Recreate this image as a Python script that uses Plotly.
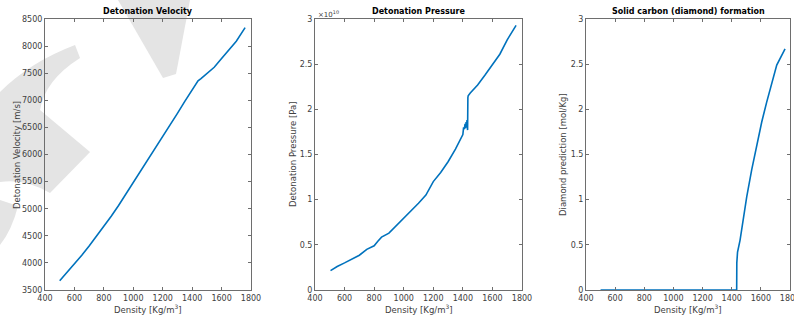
import plotly.graph_objects as go

# ---------------- data ----------------
density_v = [500, 550, 600, 650, 700, 750, 800, 850, 900, 950, 1000, 1050, 1100, 1150,
             1200, 1250, 1300, 1350, 1400, 1420, 1440, 1460, 1500, 1550, 1600, 1650, 1700, 1760]
velocity = [3670, 3820, 3975, 4140, 4310, 4490, 4670, 4860, 5060, 5270, 5480, 5690, 5900, 6110,
            6320, 6540, 6760, 6980, 7190, 7280, 7360, 7400, 7490, 7610, 7770, 7920, 8090, 8340]

density_p = [505, 550, 600, 650, 700, 750, 800, 825, 850, 900, 950, 1000, 1050, 1100, 1150,
             1200, 1250, 1300, 1350, 1400, 1405, 1410, 1415, 1418, 1422, 1425, 1428, 1432,
             1434, 1436, 1450, 1500, 1550, 1600, 1650, 1700, 1760]
pressure_e10 = [0.215, 0.26, 0.30, 0.34, 0.385, 0.45, 0.49, 0.54, 0.585, 0.63, 0.71, 0.79, 0.88,
                0.96, 1.05, 1.20, 1.30, 1.42, 1.56, 1.72, 1.80, 1.78, 1.84, 1.79, 1.86, 1.80,
                1.88, 1.77, 2.13, 2.15, 2.18, 2.27, 2.38, 2.49, 2.61, 2.77, 2.93]
pressure = [p * 1e10 for p in pressure_e10]

density_d = [500, 1434, 1435, 1440, 1457, 1480, 1503, 1537, 1571, 1606, 1640, 1675, 1709, 1766]
diamond = [0, 0, 0.30, 0.42, 0.55, 0.81, 1.03, 1.33, 1.59, 1.86, 2.08, 2.30, 2.49, 2.67]

x_ticks = [400, 600, 800, 1000, 1200, 1400, 1600, 1800]
v_ticks = [3500, 4000, 4500, 5000, 5500, 6000, 6500, 7000, 7500, 8000, 8500]
p_tickvals = [0, 0.5e10, 1e10, 1.5e10, 2e10, 2.5e10, 3e10]
p_ticktext = ["0", "0.5", "1", "1.5", "2", "2.5", "3"]
d_ticks = [0, 0.5, 1, 1.5, 2, 2.5, 3]
d_ticktext = ["0", "0.5", "1", "1.5", "2", "2.5", "3"]

titles = ["Detonation Velocity", "Detonation Pressure", "Solid carbon (diamond) formation"]
y_titles = ["Detonation Velocity [m/s]", "Detonation Pressure [Pa]", "Diamond prediction [mol/Kg]"]
x_title = "Density [Kg/m<sup>3</sup>]"

# ---------------- figure ----------------
W, H = 794, 320
MT, MB = 19, 30
PH = H - MT - MB
LINE = "#0072BD"
AX = "#6e6e6e"
TXT = "#404040"
FONT = "DejaVu Sans"

fig = go.Figure()
fig.add_trace(go.Scatter(x=density_v, y=velocity, mode="lines",
                         line=dict(color=LINE, width=1.6), xaxis="x", yaxis="y"))
fig.add_trace(go.Scatter(x=density_p, y=pressure, mode="lines",
                         line=dict(color=LINE, width=1.6), xaxis="x2", yaxis="y2"))
fig.add_trace(go.Scatter(x=density_d, y=diamond, mode="lines",
                         line=dict(color=LINE, width=1.6), xaxis="x3", yaxis="y3"))

domains = [(45, 251), (315, 522), (586, 790)]
ytitle_x = [17, 293, 563]

common_x = dict(range=[400, 1800], tickvals=x_ticks, ticks="inside", ticklen=3,
                tickcolor=AX, showline=True, linecolor=AX, linewidth=1, mirror="ticks",
                showgrid=False, zeroline=False, automargin=False, ticklabeloverflow="allow",
                tickfont=dict(family=FONT, size=8, color=TXT))
common_y = dict(ticks="inside", ticklen=3, tickcolor=AX, showline=True, linecolor=AX,
                linewidth=1, mirror="ticks", showgrid=False, zeroline=False, automargin=False,
                tickfont=dict(family=FONT, size=8, color=TXT))

layout = dict(width=W, height=H, margin=dict(l=0, r=0, t=MT, b=MB, autoexpand=False),
              paper_bgcolor="white", plot_bgcolor="rgba(0,0,0,0)", showlegend=False,
              font=dict(family=FONT, size=8, color=TXT))

for i, (a, b) in enumerate(domains):
    sx = "" if i == 0 else str(i + 1)
    layout["xaxis" + sx] = dict(common_x, domain=[a / W, b / W], anchor="y" + sx)
yt = [dict(range=[3500, 8500], tickvals=v_ticks),
      dict(range=[0, 3e10], tickvals=p_tickvals, ticktext=p_ticktext),
      dict(range=[0, 3], tickvals=d_ticks, ticktext=d_ticktext)]
for i in range(3):
    sx = "" if i == 0 else str(i + 1)
    layout["yaxis" + sx] = dict(common_y, **yt[i], anchor="x" + sx)


def px(x):
    return x / W


def py(y):
    return (H - MB - y) / PH


annotations = []
for i, (a, b) in enumerate(domains):
    annotations.append(dict(text="<b>" + titles[i] + "</b>", x=px((a + b) / 2), y=py(12),
                            xref="paper", yref="paper", xanchor="center", yanchor="middle",
                            showarrow=False, font=dict(family=FONT, size=8, color="black")))
    annotations.append(dict(text=x_title, x=px((a + b) / 2), y=py(309),
                            xref="paper", yref="paper", xanchor="center", yanchor="middle",
                            showarrow=False, font=dict(family=FONT, size=8.5, color=TXT)))
    annotations.append(dict(text=y_titles[i], x=px(ytitle_x[i]), y=py(155), textangle=-90,
                            xref="paper", yref="paper", xanchor="center", yanchor="middle",
                            showarrow=False, font=dict(family=FONT, size=8.5, color=TXT)))
annotations.append(dict(text="\u00d710<sup>10</sup>", x=px(316), y=py(14), xref="paper",
                        yref="paper", xanchor="left", yanchor="middle",
                        showarrow=False, font=dict(family=FONT, size=7, color=TXT)))
layout["annotations"] = annotations


# light-grey watermark (decoration) in pixel space
def P(x, y):
    return "%.4f,%.4f" % (px(x), py(y))


wm = "#e4e4e4"
paths = [
    "M%s L%s L%s L%s Z" % (P(118, 0), P(190, 0), P(176, 74), P(163, 78)),
    "M%s Q%s %s L%s Q%s %s L%s L%s Q%s %s Z" % (
        P(0, 92), P(30, 62), P(75, 45), P(80, 58), P(45, 80), P(40, 110),
        P(90, 152), P(50, 193), P(25, 178), P(0, 182)),
    "M%s L%s Q%s %s Z" % (P(0, 200), P(18, 206), P(12, 230), P(0, 245)),
]
layout["shapes"] = [dict(type="path", path=p, xref="paper", yref="paper", fillcolor=wm,
                         line=dict(width=0), layer="below") for p in paths]

fig.update_layout(**layout)
fig.write_html("out.html", config={"displayModeBar": False},
               post_script="document.body.style.margin='0';"
                           "document.body.style.overflow='hidden';")
